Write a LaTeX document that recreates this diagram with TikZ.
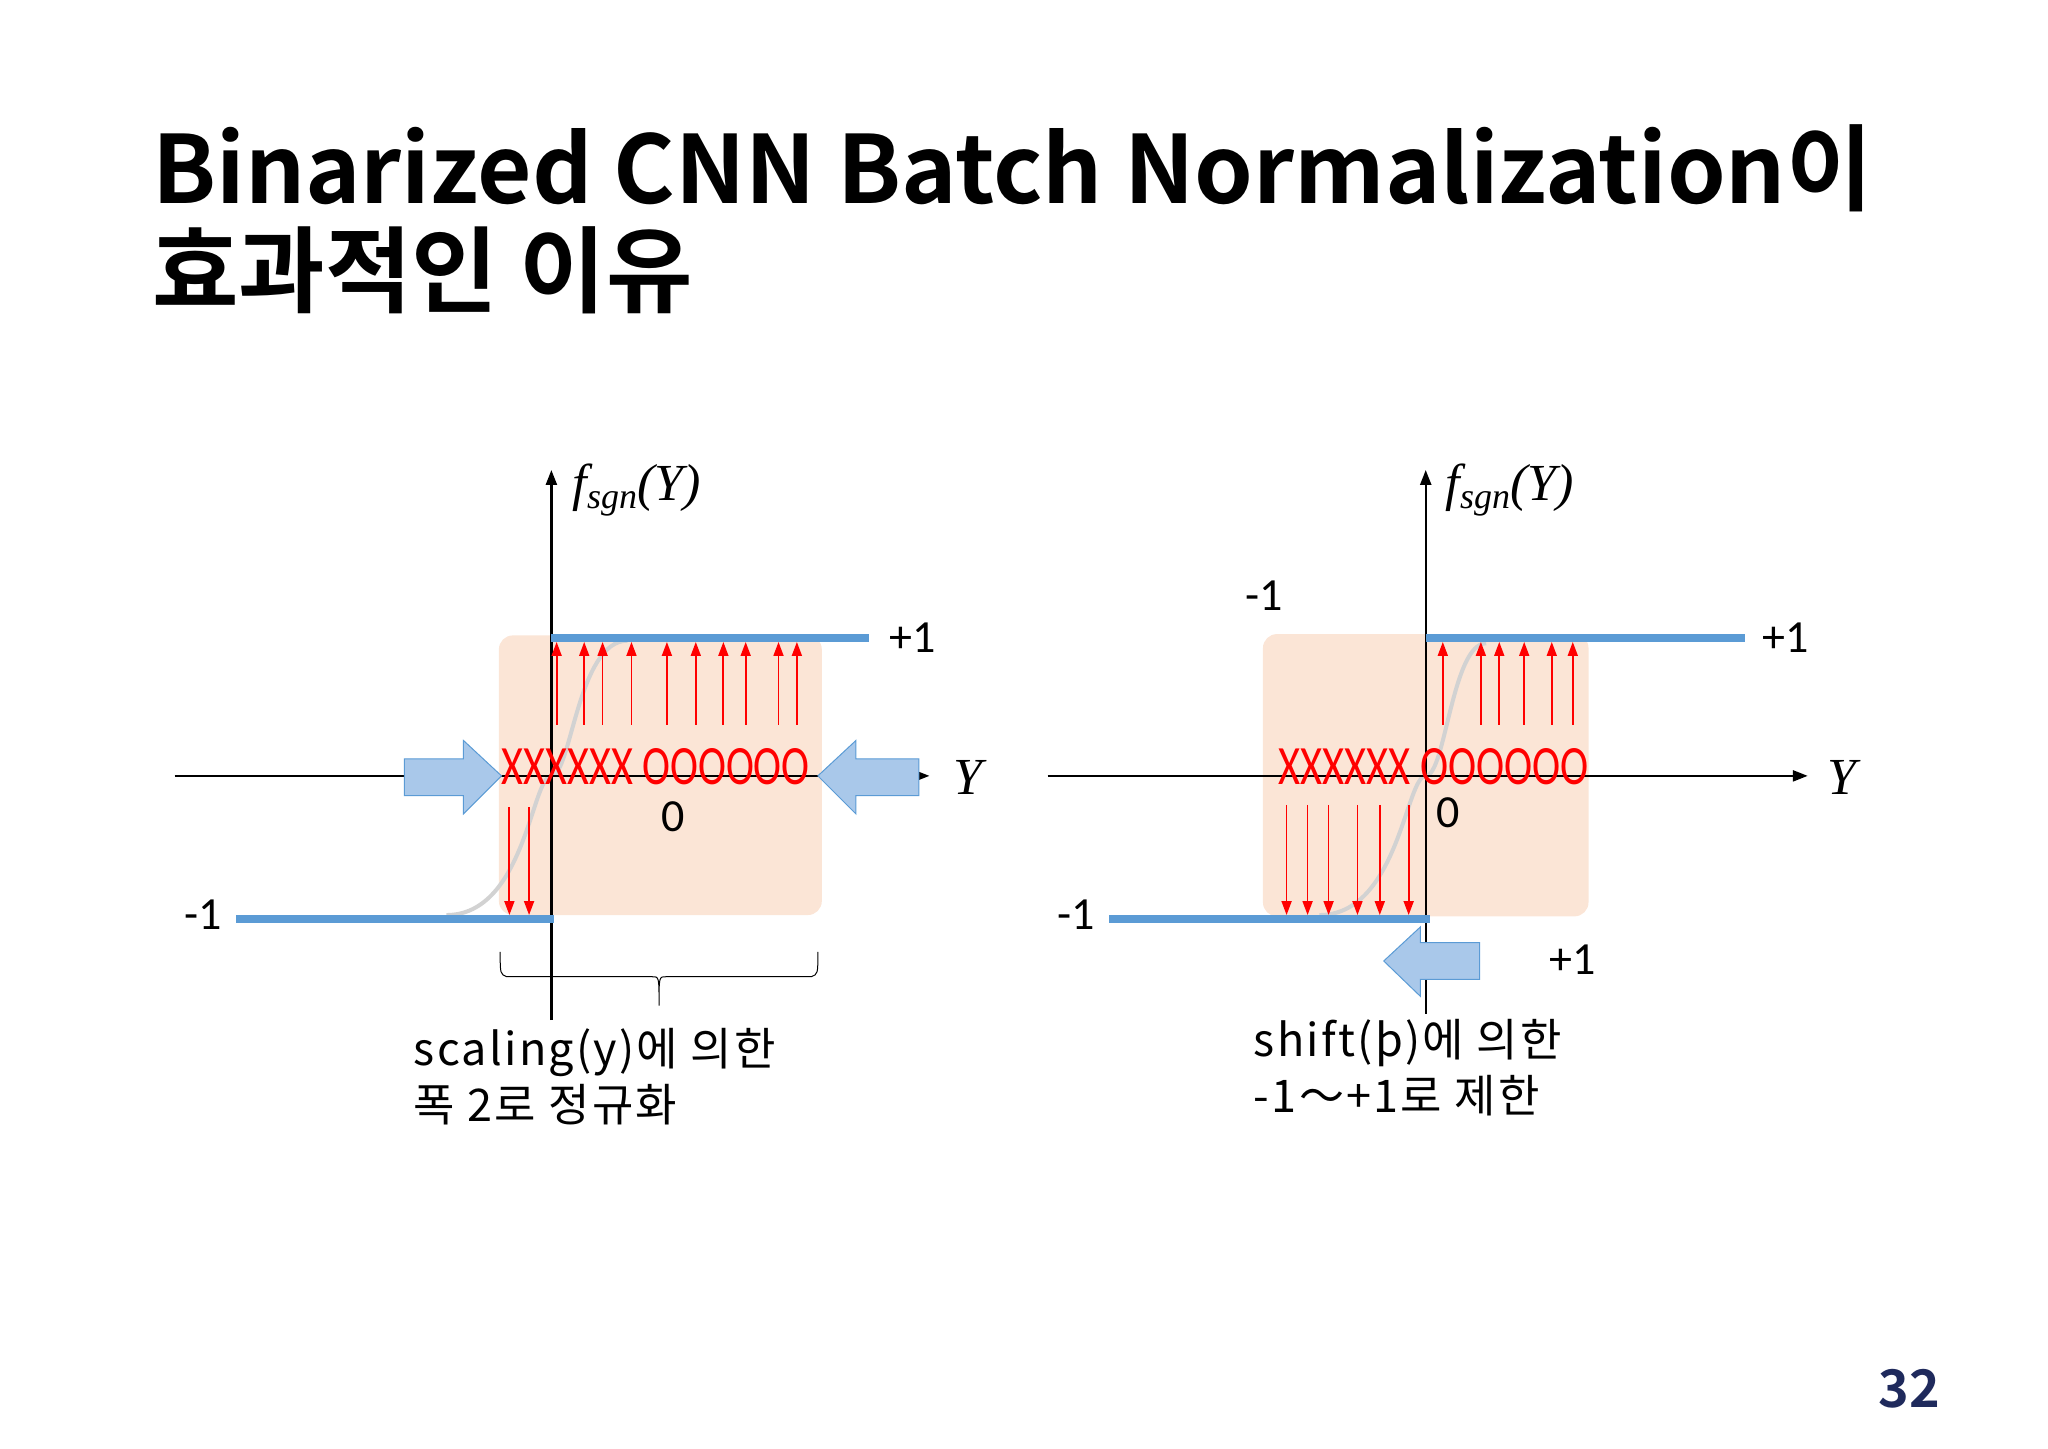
\documentclass[tikz,border=0pt]{standalone}
\usepackage{fontspec}
\setmainfont{Carlito}
\newfontfamily\kr{Noto Sans CJK KR}
\newfontfamily\krb{Noto Sans CJK KR Bold}
\newfontfamily\tms{Liberation Serif}
\usetikzlibrary{arrows.meta}
\definecolor{bl}{HTML}{5B9BD5}
\definecolor{pk}{HTML}{FBE5D6}
\definecolor{fa}{HTML}{A9C8EA}
\definecolor{navy}{HTML}{1F2A5C}
\begin{document}
\begin{tikzpicture}[x=1.3128pt,y=-1.3128pt,
  ax/.style={line width=2.4pt,-{Triangle[length=15pt,width=11pt]}},
  bline/.style={bl,line width=8pt},
  rup/.style={red,line width=1.8pt,-{Triangle[length=14pt,width=10pt]}},
  sig/.style={gray!35,line width=4pt},
  lbl/.style={font=\fontsize{46}{50}\selectfont,inner sep=0},
  fs/.style={font=\tms\itshape\fontsize{52}{56}\selectfont,inner sep=0},
  kt/.style={font=\kr\addfontfeature{LetterSpace=5}\fontsize{45}{56}\selectfont,inner sep=0,align=left,anchor=north west},
  xo/.style={red,inner sep=0},
  fat/.style={fill=fa,draw=bl,line width=1pt}]
\useasboundingbox (0,0) rectangle (1560,1103);
\node[anchor=base west,inner sep=0,font=\krb\fontsize{94}{100}\selectfont] (t1) at (116,155) {Binarized CNN Batch Normalization이};
\node[anchor=base west,inner sep=0,font=\krb\fontsize{94}{100}\selectfont] (t2) at (116,233) {효과적인 이유};
\node[anchor=base east,inner sep=0,text=navy,font=\krb\fontsize{52}{60}\selectfont] (pg) at (1478,1072) {32};
% ---------- left
\fill[pk,rounded corners=14pt] (380,484) rectangle (626,697);
\draw[sig] (340,697) .. controls (400,697) and (405,591) .. (420,591) .. controls (435,591) and (440,488) .. (478,488);
\coordinate (lxa) at (133,591); \coordinate (lxb) at (708,591);
\draw[ax] (lxa) -- (lxb);
\coordinate (lya) at (420,777); \coordinate (lyb) at (420,358);
\draw[ax] (lya) -- (lyb);
\draw[bline] (420,486) -- (662,486);
\draw[bline] (180,700) -- (422,700);
\foreach \x in {424,445,459,481,508,530,551,568,593,607} \draw[rup] (\x,552) -- (\x,489);
\foreach \x in {388,403} \draw[rup] (\x,615) -- (\x,697);
\node[xo] (lxo) at (499.5,584) {\resizebox{308pt}{36pt}{XXXXXX OOOOOO}};
\draw[fat] (308,578) -- (353,578) -- (353,564) -- (382,591) -- (353,620) -- (353,606) -- (308,606) -- cycle;
\draw[fat] (700,578) -- (652,578) -- (652,564) -- (623,591) -- (652,620) -- (652,606) -- (700,606) -- cycle;
\node[lbl] (lp1) at (695,486) {+1};
\node[lbl] (lm1) at (155,697) {-1};
\node[lbl] (l0) at (513,622) {0};
\node[fs] (lY) at (737,592) {Y};
\node[fs] (lf) at (485,373) {f\raisebox{-8pt}{\fontsize{36}{36}\selectfont sgn}(Y)};
\draw[line width=1pt] (381,725) .. controls (381,742) .. (386,744) -- (497,744) .. controls (502,744) .. (502,766) .. controls (502,744) .. (507,744) -- (618,744) .. controls (623,742) .. (623,725);
\node[kt] (lt) at (315,783) {scaling(y)에 의한\\폭 2로 정규화};
% ---------- right
\fill[pk,rounded corners=14pt] (962,483) rectangle (1210,698);
\draw[sig] (1005,697) .. controls (1065,697) and (1071,591) .. (1086,591) .. controls (1101,591) and (1106,490) .. (1132,490);
\coordinate (rxa) at (798,591); \coordinate (rxb) at (1377,591);
\draw[ax] (rxa) -- (rxb);
\coordinate (rya) at (1086,772); \coordinate (ryb) at (1086,358);
\draw[ax] (rya) -- (ryb);
\draw[bline] (1086,486) -- (1329,486);
\draw[bline] (845,700) -- (1089,700);
\foreach \x in {1099,1128,1142,1161,1182,1198} \draw[rup] (\x,552) -- (\x,489);
\foreach \x in {980,996,1012,1034,1051,1073} \draw[rup] (\x,613) -- (\x,697);
\node[xo] (rxo) at (1092,584) {\resizebox{310pt}{36pt}{XXXXXX OOOOOO}};
\draw[fat] (1127,718) -- (1082,718) -- (1082,706) -- (1054,732) -- (1082,759) -- (1082,746) -- (1127,746) -- cycle;
\node[lbl] (rp1) at (1360,486) {+1};
\node[lbl] (rm1) at (820,697) {-1};
\node[lbl] (rm1b) at (963,454) {-1};
\node[lbl] (rp1b) at (1198,731) {+1};
\node[lbl] (r0) at (1103,619) {0};
\node[fs] (rY) at (1403,592) {Y};
\node[fs] (rf) at (1150,373) {f\raisebox{-8pt}{\fontsize{36}{36}\selectfont sgn}(Y)};
\node[kt] (rt) at (955,776) {shift(þ)에 의한\\-1～+1로 제한};
\end{tikzpicture}
\end{document}
